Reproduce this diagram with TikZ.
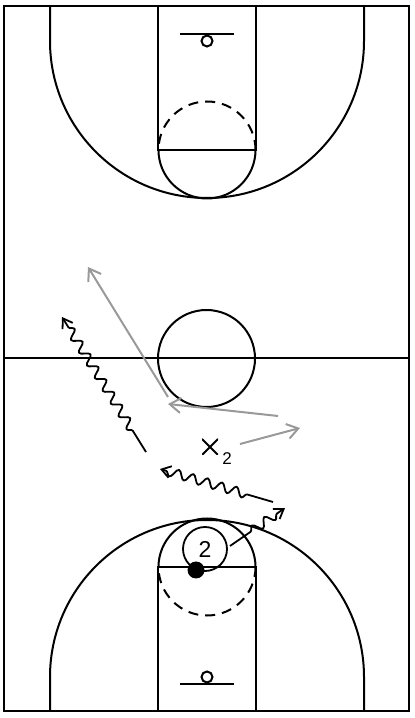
\documentclass[tikz,border=0pt]{standalone}
\usepackage{fontspec}
\setmainfont{Liberation Sans}
\usetikzlibrary{arrows.meta,decorations.pathmorphing}
\tikzset{%
  % court lines
           court/.style = {line width=2pt},
        dashline/.style = {court, dash pattern=on 10pt off 7pt},
  % players and moves
         offense/.style = {circle, draw, line width=1.8pt, minimum size=44pt,
                           inner sep=0pt, font=\fontsize{23}{23}\selectfont},
            ball/.style = {circle, fill=black, minimum size=17pt, inner sep=0pt},
        defender/.style = {minimum size=16pt, inner sep=0pt,
                           path picture={\draw[line width=1.8pt]
                             (path picture bounding box.south west) -- (path picture bounding box.north east)
                             (path picture bounding box.north west) -- (path picture bounding box.south east);}},
             cut/.style = {draw=black!40, line width=2pt,
                           -{Straight Barb[length=11pt,width=15pt]}},
         dribble/.style = {line width=1.8pt, line join=round,
                           -{Straight Barb[length=9pt,width=12pt]},
                           decorate, decoration={snake, amplitude=4.5pt,
                           segment length=15pt, pre length=#1, post length=6pt}},
         dribble/.default = 25pt,
}

\begin{document}
\begin{tikzpicture}[x=1pt, y=1pt]
  \useasboundingbox (0,0) rectangle (415,718);
  % outline and half court
  \draw[line width=2.6pt] (4,7) rectangle (409,712);
  \draw[court] (4,359.5) -- (409,359.5);
  \draw[court] (206.5,359.5) circle (48.5);
  % upper half
  \draw[court] (158,712) -- (158,568) -- (256,568) -- (256,712);
  \draw[court] (255.5,568) arc (0:-180:48.5);
  \draw[dashline] (255.5,568) arc (0:180:48.5);
  \draw[court] (180,684) -- (234,684);
  \draw[court] (207,677) circle (5.5);
  \draw[court] (50,712) -- (50,677) arc (180:360:157) -- (364,712);
  % lower half
  \draw[court] (158,7) -- (158,151) -- (256,151) -- (256,7);
  \draw[court] (255.5,151) arc (0:180:48.5);
  \draw[dashline] (255.5,151) arc (0:-180:48.5);
  \draw[court] (180,34) -- (234,34);
  \draw[court] (207,41) circle (5.5);
  \draw[court] (50,7) -- (50,41) arc (180:0:157) -- (364,7);

  % players
  \node (offense) [offense] at (205,169) {2};
  \node (ball) [ball] at (196,148) {};
  \node (defender) [defender] at (210,271) {};
  \node (defnum) [font=\fontsize{17}{17}\selectfont, inner sep=0pt] at (227,259) {2};

  % ends of the moves
  \coordinate (dribA) at (230,172);
  \coordinate (dribAend) at (285,210);
  \coordinate (dribB) at (273,216);
  \coordinate (dribBend) at (160,249);
  \coordinate (dribC) at (146,266);
  \coordinate (dribCend) at (62,401);
  \coordinate (cutA) at (240,274);
  \coordinate (cutAend) at (300,290);
  \coordinate (cutB) at (278,302);
  \coordinate (cutBend) at (168,314);
  \coordinate (cutC) at (168,321);
  \coordinate (cutCend) at (88,451);

  % moves
  \draw[dribble=25pt] (dribA) -- (dribAend);
  \draw[dribble=27pt] (dribB) -- (dribBend);
  \draw[dribble=25pt] (dribC) -- (dribCend);
  \draw[cut] (cutA) -- (cutAend);
  \draw[cut] (cutB) -- (cutBend);
  \draw[cut] (cutC) -- (cutCend);
\end{tikzpicture}
\end{document}
